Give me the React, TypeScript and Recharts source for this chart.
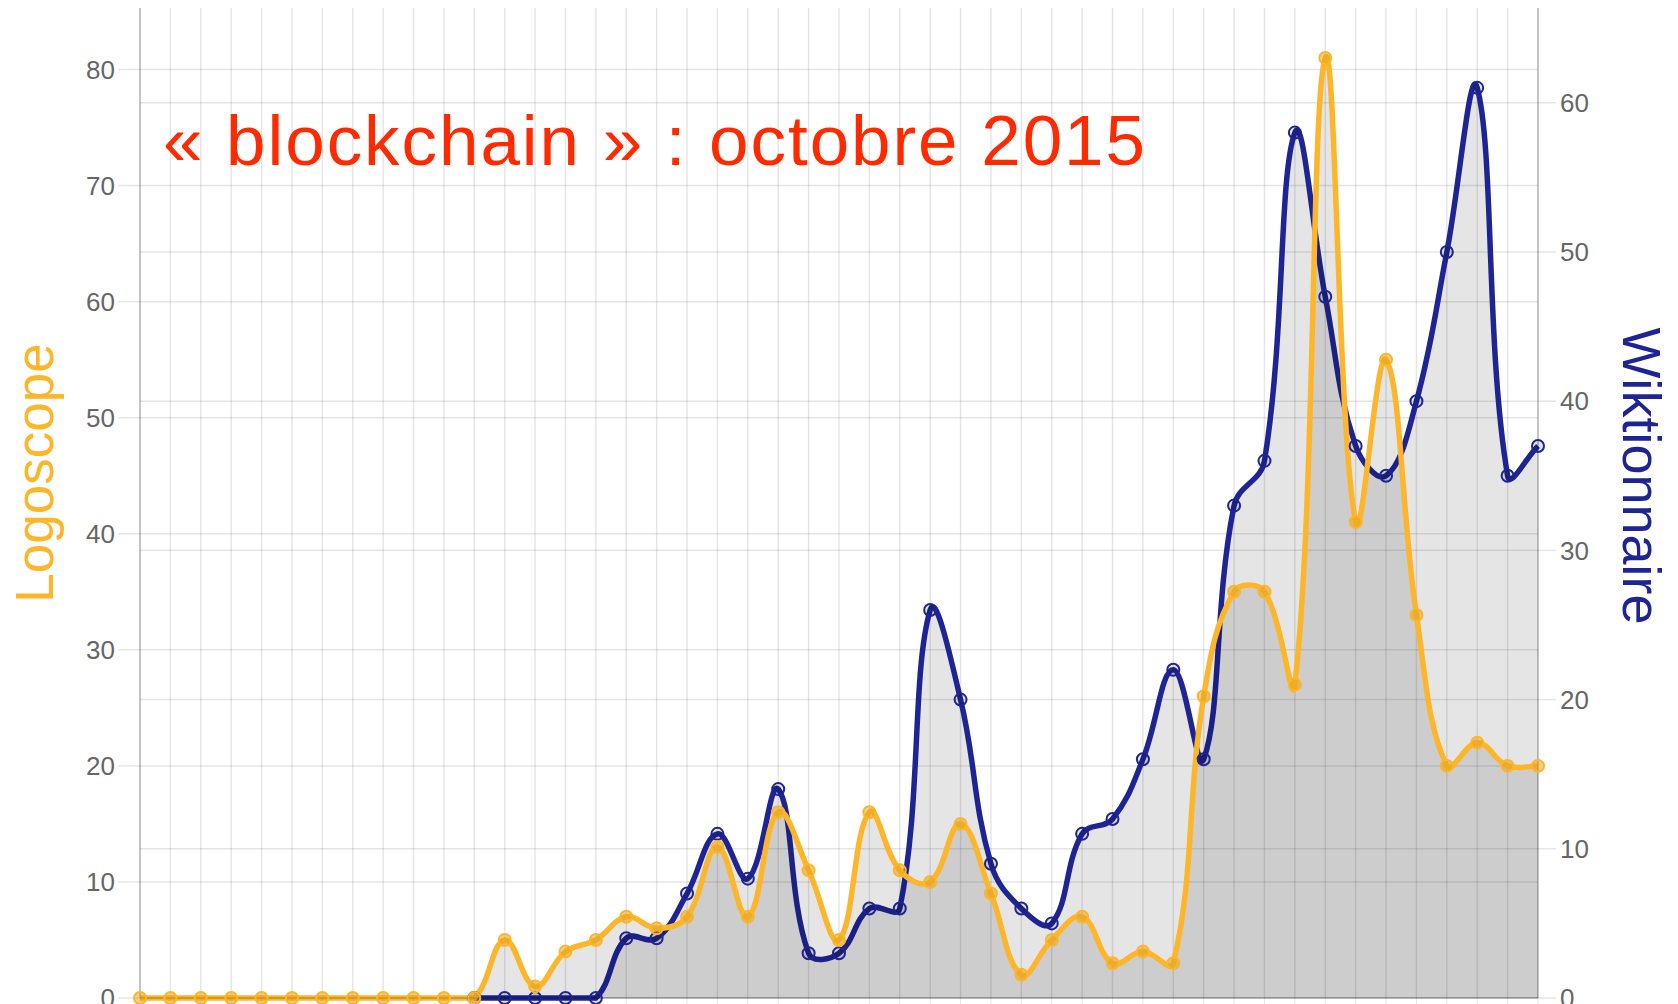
import * as React from 'react';
import { AreaChart, Area, XAxis, YAxis, CartesianGrid } from 'recharts';

// 47 periods, x labels are cut off in the source picture
const periods = [
  '1', '2', '3', '4', '5', '6', '7', '8', '9', '10', '11', '12', '13', '14', '15', '16',
  '17', '18', '19', '20', '21', '22', '23', '24', '25', '26', '27', '28', '29', '30', '31',
  '32', '33', '34', '35', '36', '37', '38', '39', '40', '41', '42', '43', '44', '45', '46', '47',
];

const logoscope = [
  0, 0, 0, 0, 0, 0, 0, 0, 0, 0, 0, 0,
  5, 1, 4, 5, 7, 6, 7, 13, 7, 16, 11, 5, 16, 11, 10, 15, 9, 2, 5, 7, 3, 4, 3,
  26, 35, 35, 27, 81, 41, 55, 33, 20, 22, 20, 20,
];

const wiktionnaire = [
  null, null, null, null, null, null, null, null, null, null, null,
  0, 0, 0, 0, 0,
  4, 4, 7, 11, 8, 14, 3, 3, 6, 6, 26, 20, 9, 6, 5, 11, 12, 16, 22, 16,
  33, 36, 58, 47, 37, 35, 40, 50, 61, 35, 37,
];

const leftTicks = [0, 10, 20, 30, 40, 50, 60, 70, 80];
const rightTicks = [0, 10, 20, 30, 40, 50, 60];

const ORANGE = '#FDB62A';
const NAVY = '#1F2494';
const GRID = 'rgba(0,0,0,0.1)';
const AXIS = 'rgba(0,0,0,0.22)';
const FONT = "'Liberation Sans', Arial, sans-serif";

const PLOT = { left: 140, right: 1538, top: 8, bottom: 998 };

// spline like chart.js (tension 0.4), control points kept inside the plot
function chartJsCurve(tension: number) {
  return (context: any) => {
    let pts: number[][] = [];
    let line = NaN;
    const cap = (v: number, lo: number, hi: number) => Math.max(lo, Math.min(hi, v));
    return {
      areaStart() { line = 0; },
      areaEnd() { line = NaN; },
      lineStart() { pts = []; },
      point(x: number, y: number) { pts.push([+x, +y]); },
      lineEnd() {
        const n = pts.length;
        if (n > 0) {
          if (line) context.lineTo(pts[0][0], pts[0][1]);
          else context.moveTo(pts[0][0], pts[0][1]);
          const cps = pts.map((cur, i) => {
            const prev = pts[i - 1] || cur;
            const next = pts[i + 1] || cur;
            const d01 = Math.hypot(cur[0] - prev[0], cur[1] - prev[1]);
            const d12 = Math.hypot(next[0] - cur[0], next[1] - cur[1]);
            let s01 = d01 / (d01 + d12);
            let s12 = d12 / (d01 + d12);
            if (isNaN(s01)) s01 = 0;
            if (isNaN(s12)) s12 = 0;
            const fa = tension * s01;
            const fb = tension * s12;
            const dx = next[0] - prev[0];
            const dy = next[1] - prev[1];
            return {
              px: cap(cur[0] - fa * dx, PLOT.left, PLOT.right),
              py: cap(cur[1] - fa * dy, PLOT.top, PLOT.bottom),
              nx: cap(cur[0] + fb * dx, PLOT.left, PLOT.right),
              ny: cap(cur[1] + fb * dy, PLOT.top, PLOT.bottom),
            };
          });
          for (let i = 1; i < n; i++) {
            context.bezierCurveTo(cps[i - 1].nx, cps[i - 1].ny, cps[i].px, cps[i].py, pts[i][0], pts[i][1]);
          }
        }
        if (line || (line !== 0 && n === 1)) context.closePath();
        line = 1 - line;
      },
    };
  };
}

const curve = chartJsCurve(0.4);

const rows = periods.map((p, i) => ({
  period: p,
  logoscope: logoscope[i],
  wiktionnaire: wiktionnaire[i],
}));

const App: React.FC = () => {
  return (
    <div style={{ position: 'fixed', left: 0, top: 0, width: 1678, height: 1004, overflow: 'hidden', background: '#fff', fontFamily: FONT }}>
      <AreaChart width={1678} height={1040} data={rows} margin={{ top: 8, right: 0, bottom: 0, left: 0 }}>
        <CartesianGrid yAxisId="left" stroke={GRID} strokeWidth={1.5} horizontalValues={leftTicks} />
        <CartesianGrid yAxisId="right" stroke={GRID} strokeWidth={1.5} vertical={false} horizontalValues={rightTicks} />
        <XAxis
          dataKey="period"
          scale="point"
          padding={{ left: 0, right: 0 }}
          interval={0}
          height={42}
          tickFormatter={() => ''}
          tickSize={8}
          tickLine={{ stroke: GRID }}
          axisLine={{ stroke: AXIS, strokeWidth: 1.5 }}
        />
        <YAxis
          yAxisId="left"
          width={140}
          domain={[0, 85.3]}
          ticks={leftTicks}
          tickSize={22}
          tickMargin={3}
          tickLine={{ stroke: GRID, strokeWidth: 1.5 }}
          axisLine={{ stroke: AXIS, strokeWidth: 1.5 }}
          tick={{ fill: '#666', fontSize: 26, fontFamily: FONT }}
        />
        <YAxis
          yAxisId="right"
          orientation="right"
          width={140}
          domain={[0, 66.35]}
          ticks={rightTicks}
          tickSize={18}
          tickMargin={4}
          tickLine={{ stroke: GRID, strokeWidth: 1.5 }}
          axisLine={{ stroke: AXIS, strokeWidth: 1.5 }}
          tick={{ fill: '#666', fontSize: 26, fontFamily: FONT }}
        />
        <Area
          yAxisId="right"
          dataKey="wiktionnaire"
          type={curve as any}
          stroke={NAVY}
          strokeWidth={5.5}
          fill="#000"
          fillOpacity={0.1}
          dot={{ r: 6, stroke: NAVY, strokeWidth: 2, fill: 'rgba(0,0,0,0.1)', fillOpacity: 1 }}
          activeDot={false}
          isAnimationActive={false}
        />
        <Area
          yAxisId="left"
          dataKey="logoscope"
          type={curve as any}
          stroke={ORANGE}
          strokeWidth={5.5}
          fill="#000"
          fillOpacity={0.1}
          dot={{ r: 6, stroke: ORANGE, strokeWidth: 2, fill: 'rgba(230,160,20,0.5)', fillOpacity: 1 }}
          activeDot={false}
          isAnimationActive={false}
        />
      </AreaChart>
      <svg width={1678} height={1004} style={{ position: 'absolute', left: 0, top: 0, pointerEvents: 'none' }}>
        <text x={163} y={165} fontSize={71} fill="#FF2A00" fontFamily={FONT} textLength={982} lengthAdjust="spacing">
          « blockchain » : octobre 2015
        </text>
        <text x={53} y={473} fontSize={53} fill={ORANGE} fontFamily={FONT} textAnchor="middle" transform="rotate(-90 53 473)">
          Logoscope
        </text>
        <text x={1623} y={476} fontSize={54} fill={NAVY} fontFamily={FONT} textAnchor="middle" transform="rotate(90 1623 476)">
          Wiktionnaire
        </text>
      </svg>
    </div>
  );
};

export default App;
